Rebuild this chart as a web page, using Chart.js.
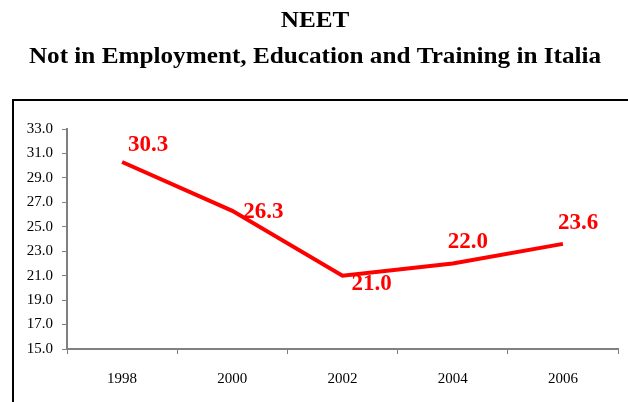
<!DOCTYPE html>
<html>
<head>
<meta charset="utf-8">
<script src="https://cdn.jsdelivr.net/npm/chart.js@4/dist/chart.umd.min.js"></script>
<style>
  html, body { margin: 0; padding: 0; background: #fff; }
  #wrap { width: 628px; height: 402px; position: relative; }
</style>
</head>
<body>
<div id="wrap"><canvas id="c" width="628" height="402"></canvas></div>
<script>
// NEET share in Italy, every two years
const years = ['1998', '2000', '2002', '2004', '2006'];
const neetValues = [30.3, 26.3, 21.0, 22.0, 23.6];
const yTicks = [15, 17, 19, 21, 23, 25, 27, 29, 31, 33];

const titleLines = ['NEET', 'Not in Employment, Education and Training in Italia'];

// where each value label sits relative to its point (dx, dy in px)
const labelOffsetX = [6, 11, 9, -5, -5];
const labelOffsetY = [-17, 1, 8, -21, -21];

const serif = '"Liberation Serif", "DejaVu Serif", serif';

const decorations = {
  id: 'decorations',
  beforeDraw(chart) {
    const ctx = chart.ctx;
    ctx.save();
    // outer frame (left and top edges)
    ctx.strokeStyle = '#000';
    ctx.lineWidth = 2;
    ctx.beginPath();
    ctx.moveTo(13, 402);
    ctx.lineTo(13, 100);
    ctx.lineTo(628, 100);
    ctx.stroke();
    // titles, slightly widened
    ctx.fillStyle = '#000';
    ctx.textAlign = 'center';
    ctx.textBaseline = 'alphabetic';
    ctx.font = 'bold 24px ' + serif;
    ctx.translate(315, 0);
    ctx.scale(1.05, 1);
    ctx.fillText(titleLines[0], 0, 27);
    ctx.fillText(titleLines[1], 0, 63);
    ctx.restore();
  },
  afterDatasetsDraw(chart) {
    const ctx = chart.ctx;
    const meta = chart.getDatasetMeta(0);
    ctx.save();
    ctx.fillStyle = '#ff0000';
    ctx.font = 'bold 23px ' + serif;
    ctx.textAlign = 'left';
    ctx.textBaseline = 'middle';
    meta.data.forEach((pt, i) => {
      const v = chart.data.datasets[0].data[i];
      ctx.fillText(v.toFixed(1), pt.x + labelOffsetX[i], pt.y + labelOffsetY[i]);
    });
    ctx.restore();
  }
};

new Chart(document.getElementById('c'), {
  type: 'line',
  data: {
    labels: years,
    datasets: [{
      data: neetValues,
      borderColor: '#ff0000',
      borderWidth: 4,
      pointRadius: 0,
      tension: 0,
      fill: false
    }]
  },
  options: {
    responsive: false,
    animation: false,
    layout: { padding: { left: 0, top: 129, right: 10, bottom: 0 } },
    plugins: {
      legend: { display: false },
      title: { display: false },
      tooltip: { enabled: false }
    },
    scales: {
      x: {
        offset: true,
        grid: {
          offset: true,
          drawOnChartArea: false,
          drawTicks: true,
          tickLength: 5,
          color: '#808080',
          lineWidth: 1
        },
        border: { color: '#808080', width: 2 },
        ticks: {
          color: '#000',
          font: { family: serif, size: 15 },
          padding: 16,
          maxRotation: 0
        },
        afterFit(scale) { scale.height = 53; }
      },
      y: {
        min: 15,
        max: 33,
        afterBuildTicks(scale) { scale.ticks = yTicks.map(v => ({ value: v })); },
        grid: {
          drawOnChartArea: false,
          drawTicks: true,
          tickLength: 5,
          color: '#808080',
          lineWidth: 1
        },
        border: { color: '#808080', width: 2 },
        ticks: {
          color: '#000',
          font: { family: serif, size: 15 },
          padding: 9,
          callback: v => Number(v).toFixed(1)
        },
        afterFit(scale) { scale.width = 67; }
      }
    }
  },
  plugins: [decorations]
});
</script>
</body>
</html>
